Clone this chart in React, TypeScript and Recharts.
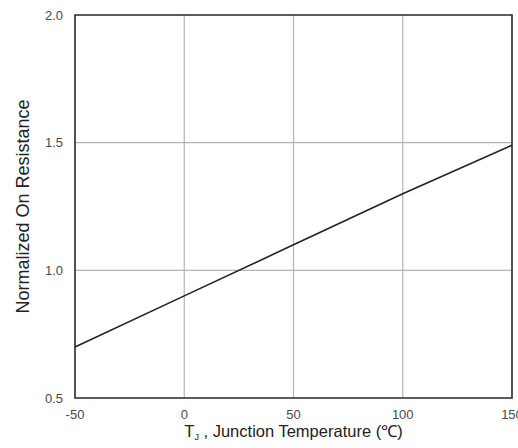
import { CartesianGrid, Label, Line, LineChart, ReferenceArea, XAxis, YAxis } from 'recharts';

const temps = [-50, 0, 50, 100, 150];
const resistance = [0.7, 0.9, 1.1, 1.3, 1.49];
const xTicks = [-50, 0, 50, 100, 150];
const yTicks = [0.5, 1.0, 1.5, 2.0];

const data = temps.map((t, i) => ({ t, r: resistance[i] }));

const font = '"Liberation Sans", Arial, sans-serif';
const tickStyle = { fill: '#4a4a4a', fontSize: 13, fontFamily: font };

function XLabel({ viewBox }: any) {
  const cx = viewBox.x + viewBox.width / 2;
  return (
    <text x={cx} y={viewBox.y + 39} textAnchor="middle" fill="#222" fontSize={16.5} fontFamily={font}>
      T<tspan fontSize={9} dy={3}>J</tspan>
      <tspan dy={-3}> , Junction Temperature (℃)</tspan>
    </text>
  );
}

export default function App() {
  return (
    <div style={{ position: 'absolute', left: 0, top: 0, background: '#fff' }}>
      <LineChart width={518} height={448} data={data} margin={{ top: 15, right: 6, bottom: 20, left: 0 }}>
        <CartesianGrid stroke="#b4b4b4" strokeWidth={1.2} />
        <XAxis
          dataKey="t"
          type="number"
          domain={[-50, 150]}
          ticks={xTicks}
          tickLine={false}
          axisLine={false}
          tick={tickStyle}
          tickMargin={6}
          height={30}
          interval={0}
        >
          <Label content={<XLabel />} />
        </XAxis>
        <YAxis
          type="number"
          domain={[0.5, 2.0]}
          ticks={yTicks}
          tickFormatter={(v: number) => v.toFixed(1)}
          tickLine={false}
          axisLine={false}
          tick={tickStyle}
          tickMargin={6}
          width={75}
          interval={0}
        >
          <Label
            value="Normalized On Resistance"
            angle={-90}
            position="insideLeft"
            offset={23}
            style={{ textAnchor: 'middle', fill: '#222', fontSize: 18, fontFamily: font }}
          />
        </YAxis>
        <ReferenceArea x1={-50} x2={150} y1={0.5} y2={2.0} fill="none" stroke="#333" strokeWidth={1.6} ifOverflow="visible" />
        <Line type="linear" dataKey="r" stroke="#222" strokeWidth={1.6} dot={false} isAnimationActive={false} />
      </LineChart>
    </div>
  );
}
